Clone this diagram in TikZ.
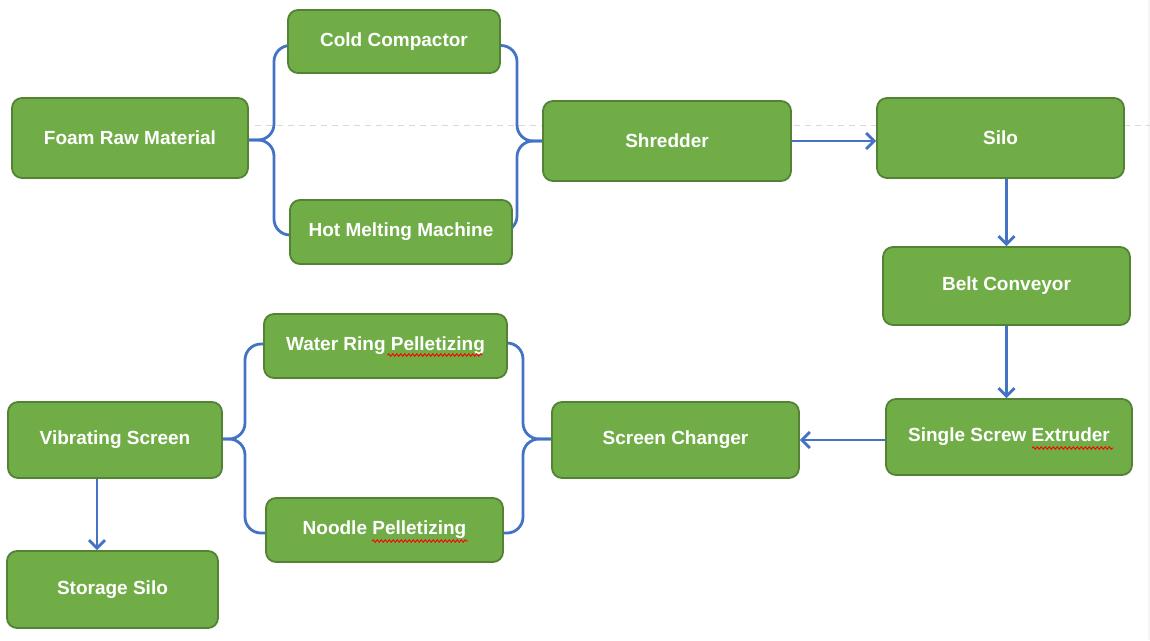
\documentclass[tikz,border=0pt]{standalone}
\usepackage{fontspec}
\setmainfont{Liberation Sans}
\usetikzlibrary{arrows.meta,calc,backgrounds,decorations.pathmorphing}
\definecolor{boxfill}{HTML}{70AD47}
\definecolor{boxline}{HTML}{548235}
\definecolor{linkc}{HTML}{4472C4}
\definecolor{dashc}{HTML}{D9D9D9}
\tikzset{
  procbox/.style={draw=boxline, fill=boxfill, line width=1.8pt, rounded corners=10pt,
    text=white, font=\fontsize{19}{22}\selectfont\bfseries, inner sep=0pt},
  linkline/.style={draw=linkc, line width=2.8pt, rounded corners=16pt},
  arr/.style={draw=linkc, line width=2.8pt, -{Straight Barb[length=8pt,width=16pt]}},
  spell/.style={draw=red, line width=0.9pt, decorate, decoration={snake, amplitude=1.2pt, segment length=4pt}},
}
\begin{document}
\begin{tikzpicture}[x=1pt,y=-1pt]
\useasboundingbox (0,0) rectangle (1150,640);

% nodes
\node[procbox, minimum width=236pt, minimum height=80pt] (foam) at (130,138) {Foam Raw Material};
\node[procbox, minimum width=212pt, minimum height=63pt] (cold) at (394,41.5) {Cold Compactor};
\node[procbox, minimum width=222pt, minimum height=64pt] (hot) at (401,232) {Hot Melting Machine};
\node[procbox, minimum width=248pt, minimum height=80pt] (shred) at (667,141) {Shredder};
\node[procbox, minimum width=247pt, minimum height=80pt] (silo) at (1000.5,138) {Silo};
\node[procbox, minimum width=247pt, minimum height=78pt] (belt) at (1006.5,286) {Belt Conveyor};
\node[procbox, minimum width=246pt, minimum height=76pt] (extr) at (1009,437) {Single Screw Extruder};
\node[procbox, minimum width=247pt, minimum height=76pt] (sc) at (675.5,440) {Screen Changer};
\node[procbox, minimum width=243pt, minimum height=64pt] (wr) at (385.5,346) {Water Ring Pelletizing};
\node[procbox, minimum width=237pt, minimum height=64pt] (nd) at (384.5,530) {Noodle Pelletizing};
\node[procbox, minimum width=214pt, minimum height=76pt] (vib) at (115,440) {Vibrating Screen};
\node[procbox, minimum width=211pt, minimum height=77pt] (stor) at (112.5,589.5) {Storage Silo};

% brace tips
\coordinate (tL) at (274,140);
\coordinate (tR) at (517,141);
\coordinate (tLL) at (245,439);
\coordinate (tLR) at (523,439);
\coordinate (aV) at (97,0);

\begin{scope}[on background layer]
  \fill[white] (0,0) rectangle (1150,640);
  \fill[gray!8] (1148,0) rectangle (1150,640);
  \draw[dashc, line width=1pt, dash pattern=on 6pt off 5pt] (255,125) -- (1150,125);
  \draw[linkline] ($(cold.center)+(0,4)$) -| (tL) -- (tL -| foam.center);
  \draw[linkline] ($(hot.center)+(0,3)$) -| (tL) -- (tL -| foam.center);
  \draw[linkline] ($(cold.center)+(0,4)$) -| (tR) -- (tR -| shred.center);
  \draw[linkline] (hot.center) -| (tR) -- (tR -| shred.center);
  \draw[linkline] ($(wr.center)+(0,-2)$) -| (tLL) -- (tLL -| vib.center);
  \draw[linkline] ($(nd.center)+(0,3)$) -| (tLL) -- (tLL -| vib.center);
  \draw[linkline] ($(wr.center)+(0,-3)$) -| (tLR) -- (tLR -| sc.center);
  \draw[linkline] ($(nd.center)+(0,3)$) -| (tLR) -- (tLR -| sc.center);
\end{scope}

% arrows
\draw[arr] (shred.east) -- (silo.west |- shred.east);
\draw[arr] (belt.north |- silo.south) -- (belt.north);
\draw[arr] (belt.south) -- (belt.south |- extr.north);
\draw[arr] (extr.west |- sc.east) -- (sc.east);
\draw[arr] (vib.south -| aV) -- (stor.north -| aV);

% spell-check marks
\draw[spell] ($(wr.center)+(2,9)$) -- ($(wr.center)+(97,9)$);
\draw[spell] ($(nd.center)+(-12.5,11)$) -- ($(nd.center)+(83.5,11)$);
\draw[spell] ($(extr.center)+(23,11)$) -- ($(extr.center)+(104,11)$);
\end{tikzpicture}
\end{document}
